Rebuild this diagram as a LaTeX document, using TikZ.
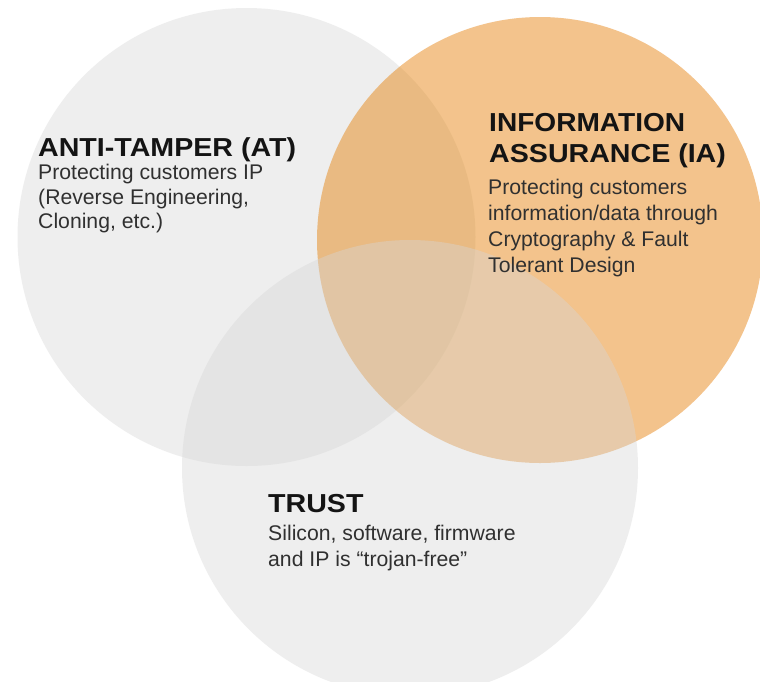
\documentclass[tikz,border=0pt]{standalone}
\usepackage{fontspec}
\usepackage{graphicx}
\setmainfont{Liberation Sans}
\definecolor{circgray}{RGB}{214,214,214}
\definecolor{iaorange}{RGB}{229,124,0}
\definecolor{titlecol}{RGB}{20,20,20}
\definecolor{bodycol}{RGB}{48,48,48}
\begin{document}
\begin{tikzpicture}[x=1pt,y=-1pt,
  graycirc/.style={fill=circgray,fill opacity=0.41},
  orangecirc/.style={fill=iaorange,fill opacity=0.45},
  titletext/.style={anchor=base west,inner sep=0pt,text=titlecol,font=\fontsize{26}{30}\selectfont\bfseries},
  bodytext/.style={anchor=base west,inner sep=0pt,text=bodycol,font=\fontsize{21.2}{25}\selectfont}]
\fill[white] (0,0) rectangle (760,681);
\useasboundingbox (0,0) rectangle (760,681);
\begin{scope}
\clip (0,0) rectangle (760,681);
\fill[graycirc] (246.5,237) circle[radius=229pt];
\fill[orangecirc] (540,240) circle[radius=223pt];
\fill[graycirc] (410,468) circle[radius=228pt];
\end{scope}
% Anti-tamper
\node[titletext] (attitle) at (38,156.7) {\scalebox{1.1}[1]{ANTI-TAMPER (AT)}};
\node[bodytext] (atl1) at (38,179) {Protecting customers IP};
\node[bodytext] (atl2) at (38,204) {(Reverse Engineering,};
\node[bodytext] (atl3) at (38,228) {Cloning, etc.)};
% Information assurance
\node[titletext] (iatitle1) at (489,131.7) {\scalebox{1.08}[1]{INFORMATION}};
\node[titletext] (iatitle2) at (489,162.7) {\scalebox{1.1}[1]{ASSURANCE (IA)}};
\node[bodytext] (ial1) at (488,194) {Protecting customers};
\node[bodytext] (ial2) at (488,220) {information/data through};
\node[bodytext] (ial3) at (488,246) {Cryptography \& Fault};
\node[bodytext] (ial4) at (488,272.5) {Tolerant Design};
% Trust
\node[titletext] (trtitle) at (268,512.7) {\scalebox{1.1}[1]{TRUST}};
\node[bodytext] (trl1) at (268,540) {Silicon, software, firmware};
\node[bodytext] (trl2) at (268,566.5) {and IP is “trojan-free”};
\end{tikzpicture}
\end{document}
